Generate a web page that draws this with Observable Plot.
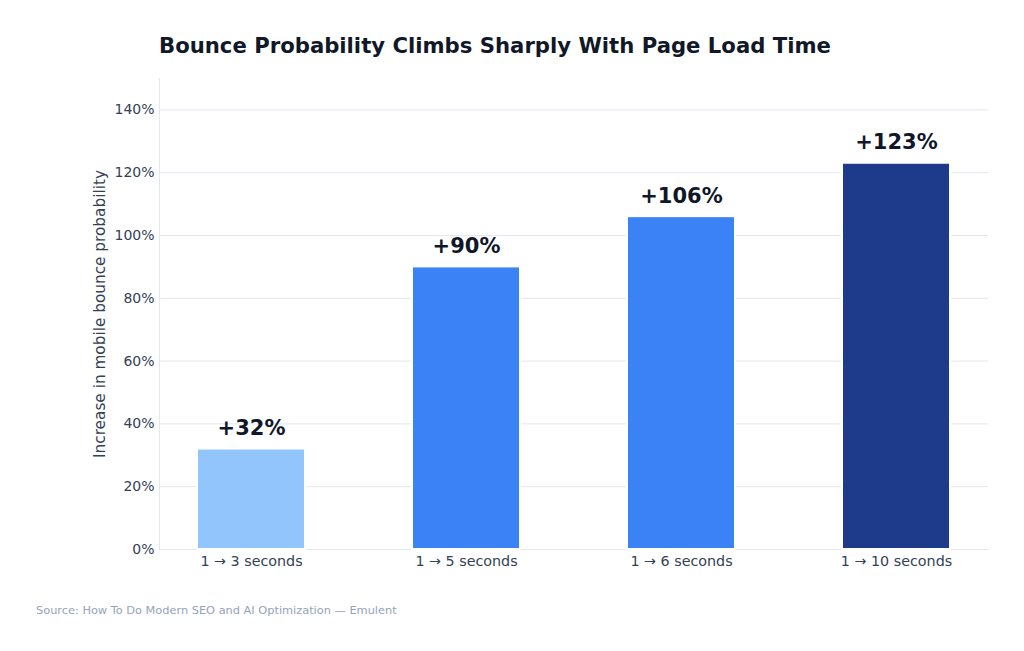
<!DOCTYPE html>
<html>
<head>
<meta charset="utf-8">
<script src="https://cdn.jsdelivr.net/npm/d3@7"></script>
<script src="https://cdn.jsdelivr.net/npm/@observablehq/plot@0.6"></script>
<style>
  html, body { margin: 0; padding: 0; background: #ffffff; }
  body { width: 1024px; height: 651px; overflow: hidden; font-family: "DejaVu Sans", sans-serif; }
  #title { height: 70px; box-sizing: border-box; padding-left: 159px; padding-top: 34px; font-size: 21.2px; font-weight: bold; color: #111827; line-height: 24px; white-space: nowrap; }
  #caption { padding-left: 36px; padding-top: 3px; font-size: 11.35px; color: #94a3b8; }
</style>
</head>
<body>
<div id="title">Bounce Probability Climbs Sharply With Page Load Time</div>
<div id="chart"></div>
<div id="caption">Source: How To Do Modern SEO and AI Optimization — Emulent</div>
<script>
const categories = ["1 → 3 seconds", "1 → 5 seconds", "1 → 6 seconds", "1 → 10 seconds"];
const values = [32, 90, 106, 123];
const barColors = ["#93c5fd", "#3b82f6", "#3b82f6", "#1e3a8a"];
const yTicks = [0, 20, 40, 60, 80, 100, 120, 140];

const data = categories.map((c, i) => ({category: c, value: values[i], color: barColors[i]}));

const chart = Plot.plot({
  width: 1024,
  height: 530,
  marginTop: 8,
  marginBottom: 51,
  marginLeft: 159,
  marginRight: 36,
  style: {fontFamily: "DejaVu Sans, sans-serif", fontSize: "14px", color: "#334155", background: "#ffffff"},
  x: {domain: categories, paddingInner: 0.5, paddingOuter: 0.174, label: null},
  y: {domain: [0, 150], label: null},
  marks: [
    Plot.ruleY(yTicks, {stroke: "#e2e8f0", strokeWidth: 1, strokeOpacity: 1}),
    Plot.frame({anchor: "left", stroke: "#e2e8f0", strokeOpacity: 1}),
    Plot.ruleY([0], {stroke: "#e2e8f0", strokeWidth: 1}),
    Plot.barY(data, {x: "category", y: "value", fill: "color", stroke: "#ffffff", strokeWidth: 2}),
    Plot.text(data, {x: "category", y: "value", text: d => "+" + d.value + "%", lineAnchor: "bottom", dy: -14, fontSize: 21, fontWeight: "bold", fill: "#0f172a"}),
    Plot.axisY({ticks: yTicks, tickFormat: d => d + "%", tickSize: 0, tickPadding: 5, fontSize: 14, fill: "#334155", label: null}),
    Plot.axisX({tickSize: 0, tickPadding: 6, fontSize: 14.3, fill: "#334155", label: null}),
    Plot.text(["Increase in mobile bounce probability"], {frameAnchor: "left", textAnchor: "middle", dx: -59, rotate: -90, fontSize: 15.3, fill: "#334155"})
  ]
});
document.getElementById("chart").appendChild(chart);
</script>
</body>
</html>
